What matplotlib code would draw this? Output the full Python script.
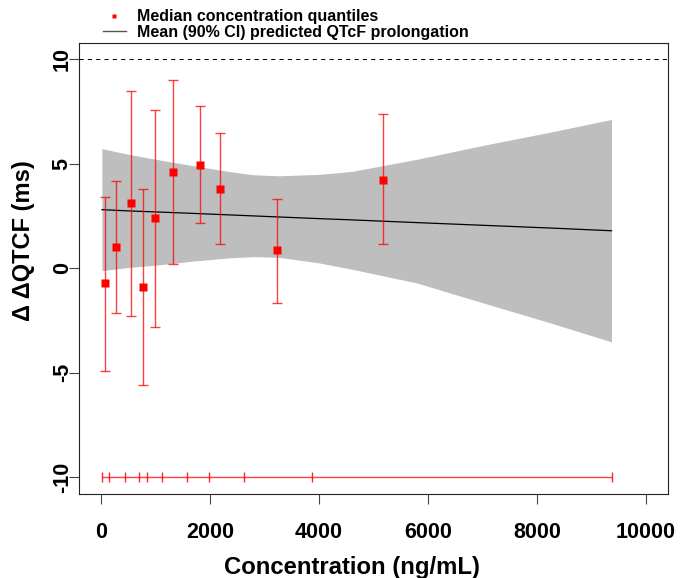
#!/usr/bin/env python
# Concentration-QTcF plot: quantile medians with 90% CI and model prediction band

import numpy as np
import matplotlib
matplotlib.use("Agg")
import matplotlib.pyplot as plt
from matplotlib.lines import Line2D

# --- Data ---
# median concentration of each quantile bin (ng/mL) and observed dQTcF
quantile_conc = [73, 275, 551, 766, 991, 1322, 1818, 2185, 3226, 5172]
quantile_median = [-0.72, 1.00, 3.10, -0.92, 2.38, 4.58, 4.96, 3.81, 0.85, 4.24]
quantile_lower = [-4.93, -2.15, -2.30, -5.58, -2.80, 0.22, 2.14, 1.16, -1.67, 1.16]
quantile_upper = [3.40, 4.16, 8.49, 3.78, 7.57, 9.01, 7.77, 6.49, 3.29, 7.40]

# model prediction (mean and 90% CI)
pred_conc = [15, 500, 1114, 1700, 2339, 2800, 3257, 4000, 4600, 5796, 7019, 8243, 9369]
pred_mean = [2.80, 2.74, 2.68, 2.62, 2.55, 2.50, 2.45, 2.37, 2.31, 2.18, 2.05, 1.92, 1.79]
pred_lower = [-0.12, 0.03, 0.17, 0.34, 0.49, 0.55, 0.52, 0.25, -0.05, -0.71, -1.67, -2.62, -3.53]
pred_upper = [5.72, 5.45, 5.16, 4.90, 4.63, 4.47, 4.42, 4.49, 4.63, 5.21, 5.88, 6.51, 7.12]

# concentration quantile boundaries (rug at the bottom)
quantile_edges = [9, 140, 431, 692, 852, 1120, 1570, 1977, 2631, 3879, 9375]

threshold = 10
rug_level = -10

x_ticks = [0, 2000, 4000, 6000, 8000, 10000]
y_ticks = [-10, -5, 0, 5, 10]


def main():
    plt.rcParams['font.family'] = ['Liberation Sans', 'DejaVu Sans']
    plt.rcParams['font.weight'] = 'bold'

    fig = plt.figure(figsize=(6.87, 5.78), dpi=100)
    ax = fig.add_axes([0.1154, 0.1458, 0.8565, 0.7806])

    # prediction band + mean line
    ax.fill_between(pred_conc, pred_lower, pred_upper, color='#BEBEBE', lw=0)
    ax.plot(pred_conc, pred_mean, color='black', lw=0.9)

    # observed quantile medians with CI
    med = np.array(quantile_median)
    yerr = [med - np.array(quantile_lower), np.array(quantile_upper) - med]
    ax.errorbar(quantile_conc, med, yerr=yerr, fmt='none',
                ecolor=(1, 0, 0, 0.75), elinewidth=1, capsize=3.6, capthick=1)
    ax.plot(quantile_conc, med, 's', color='red', ms=5.3, mec='none')

    # reference threshold
    ax.axhline(threshold, color='black', lw=0.75, ls=(0, (4, 4)))

    # rug of quantile boundaries
    edges = np.array(quantile_edges)
    ax.hlines(rug_level, edges.min(), edges.max(), color=(1, 0, 0, 0.75), lw=1)
    ax.plot(edges, np.full(len(edges), rug_level), '|', color=(1, 0, 0, 0.85),
            ms=6.5, mew=1)

    ax.set_xlim(-400, 10400)
    ax.set_ylim(-10.8, 10.8)
    ax.set_xticks(x_ticks)
    ax.set_yticks(y_ticks)
    ax.set_xticklabels([str(t) for t in x_ticks], fontsize=15.5, fontweight='bold')
    ax.set_yticklabels([str(t) for t in y_ticks], fontsize=15.5, fontweight='bold',
                       rotation=90, va='center')
    ax.tick_params(axis='x', length=7, width=0.8, color='#444444', pad=13.3)
    ax.tick_params(axis='y', length=7.2, width=0.8, color='#444444', pad=-2.5)
    for s in ax.spines.values():
        s.set_linewidth(0.8)
        s.set_color('#222222')

    ax.set_xlabel('Concentration (ng/mL)', fontsize=17.2, fontweight='bold')
    ax.xaxis.label.set_va('baseline')
    ax.xaxis.set_label_coords(0.4635, -0.1773)
    ax.set_ylabel('\u0394 \u0394QTCF (ms)', fontsize=17, fontweight='bold')
    ax.yaxis.label.set(rotation_mode='default', ha='center', va='center')
    ax.yaxis.set_label_coords(-0.094, 0.561)

    # legend above the plot box
    handles = [
        Line2D([], [], marker='s', color='red', ms=3.3, mec='none', ls='none'),
        Line2D([], [], color='#555555', lw=1),
    ]
    labels = ['Median concentration quantiles',
              'Mean (90% CI) predicted QTcF prolongation']
    ax.legend(handles, labels, loc='lower left', bbox_to_anchor=(0.0403, 1.006),
              frameon=False, borderpad=0, borderaxespad=0,
              handlelength=1.44, handletextpad=0.67, labelspacing=0.04,
              prop={'weight': 'bold', 'size': 11.5})

    fig.savefig('out.png', dpi=100)


if __name__ == "__main__":
    main()
